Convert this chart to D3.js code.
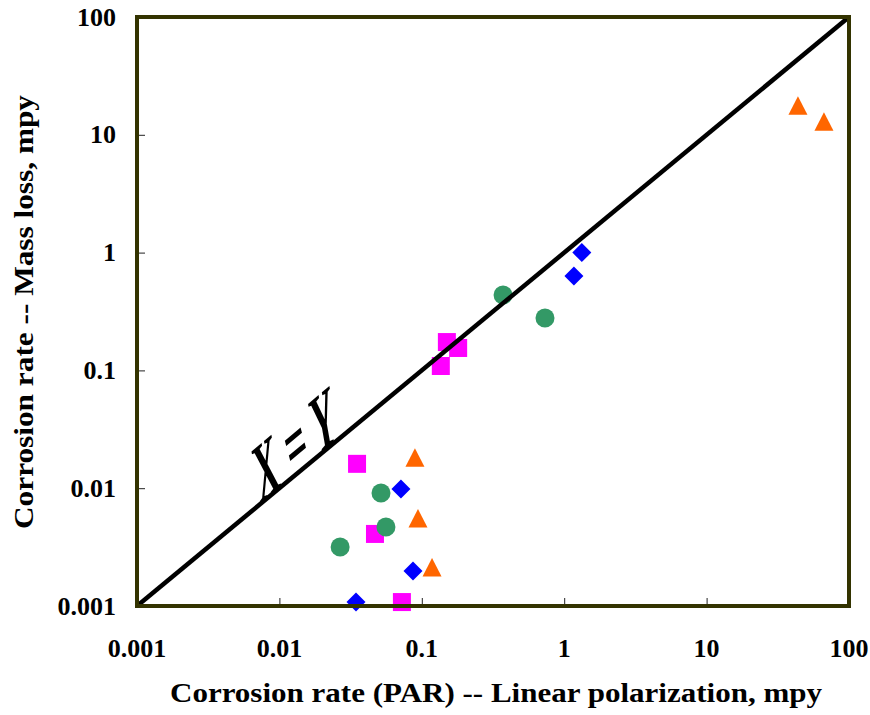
<!DOCTYPE html>
<html>
<head>
<meta charset="utf-8">
<script src="https://cdn.jsdelivr.net/npm/d3@7"></script>
<style>
  html, body { margin: 0; padding: 0; background: #fff; }
</style>
</head>
<body>
<svg id="chart" width="870" height="715" font-family="'Liberation Serif', 'Times New Roman', serif" font-weight="bold"></svg>
<script>
// Corrosion rate: linear polarization (x) vs mass loss (y), mpy
const tickValues = [0.001, 0.01, 0.1, 1, 10, 100];
const tickLabels = ["0.001", "0.01", "0.1", "1", "10", "100"];

const triangleX = [43.8, 66.7, 0.0895, 0.094, 0.118];
const triangleY = [17.5, 12.8, 0.018, 0.00548, 0.0021];

const diamondX = [1.33, 1.17, 0.0714, 0.0867, 0.0345];
const diamondY = [1.0, 0.632, 0.00985, 0.00198, 0.00108];

const circleX = [0.372, 0.733, 0.0517, 0.056, 0.0267];
const circleY = [0.437, 0.279, 0.0091, 0.00469, 0.00317];

const squareX = [0.150, 0.180, 0.136, 0.0351, 0.0469, 0.0725];
const squareY = [0.174, 0.155, 0.109, 0.0161, 0.00409, 0.00108];

const identityLine = [0.001, 100];

const svg = d3.select("#chart");
const fontFamily = "'Liberation Serif', 'Times New Roman', serif";
const plotLeft = 137, plotRight = 849, plotTop = 17, plotBottom = 606;

const x = d3.scaleLog().domain([0.001, 100]).range([plotLeft, plotRight]);
const y = d3.scaleLog().domain([0.001, 100]).range([plotBottom, plotTop]);

const frameColor = "#333300";

// inward ticks
svg.append("g")
  .attr("transform", `translate(0,${plotBottom})`)
  .call(d3.axisBottom(x).tickValues(tickValues).tickSizeInner(-8).tickSizeOuter(0).tickFormat(""))
  .call(g => g.select(".domain").remove())
  .call(g => g.selectAll("line").attr("stroke", "#222").attr("stroke-width", 1));
svg.append("g")
  .attr("transform", `translate(${plotLeft},0)`)
  .call(d3.axisLeft(y).tickValues(tickValues).tickSizeInner(-8).tickSizeOuter(0).tickFormat(""))
  .call(g => g.select(".domain").remove())
  .call(g => g.selectAll("line").attr("stroke", "#222").attr("stroke-width", 1));

// tick labels
svg.append("g").selectAll("text").data(tickValues).join("text")
  .attr("font-family", fontFamily).attr("font-weight", "bold")
  .attr("x", d => x(d)).attr("y", 657)
  .attr("text-anchor", "middle").attr("font-size", 26)
  .text((d, i) => tickLabels[i]);
svg.append("g").selectAll("text").data(tickValues).join("text")
  .attr("font-family", fontFamily).attr("font-weight", "bold")
  .attr("x", 116).attr("y", d => y(d) + 8.5)
  .attr("text-anchor", "end").attr("font-size", 26)
  .text((d, i) => tickLabels[i]);

// markers
const sq = 18;
svg.append("g").selectAll("rect").data(squareX).join("rect")
  .attr("x", (d, i) => x(d) - sq / 2).attr("y", (d, i) => y(squareY[i]) - sq / 2)
  .attr("width", sq).attr("height", sq).attr("fill", "#FF00FF");

svg.append("g").selectAll("circle").data(circleX).join("circle")
  .attr("cx", d => x(d)).attr("cy", (d, i) => y(circleY[i]))
  .attr("r", 9.5).attr("fill", "#339966");

svg.append("g").selectAll("path").data(diamondX).join("path")
  .attr("transform", (d, i) => `translate(${x(d)},${y(diamondY[i])})`)
  .attr("d", "M0,-9.5L9.5,0L0,9.5L-9.5,0Z").attr("fill", "#0000FF");

svg.append("g").selectAll("path").data(triangleX).join("path")
  .attr("transform", (d, i) => `translate(${x(d)},${y(triangleY[i])})`)
  .attr("d", "M0,-10L9.5,8.5L-9.5,8.5Z").attr("fill", "#FF6600");

// X = Y line
svg.append("line")
  .attr("x1", x(identityLine[0])).attr("y1", y(identityLine[0]))
  .attr("x2", x(identityLine[1])).attr("y2", y(identityLine[1]))
  .attr("stroke", "#000").attr("stroke-width", 4.5);

// plot frame
svg.append("rect")
  .attr("x", plotLeft).attr("y", plotTop).attr("width", plotRight - plotLeft).attr("height", plotBottom - plotTop)
  .attr("fill", "none").attr("stroke", frameColor).attr("stroke-width", 4);

// X = Y annotation
svg.append("text")
  .attr("font-family", fontFamily).attr("font-weight", "bold")
  .attr("transform", "translate(296,453) rotate(-40) skewX(-25) scale(0.85,1.35)")
  .attr("text-anchor", "middle").attr("dominant-baseline", "middle")
  .attr("font-size", 52).attr("font-style", "italic")
  .text("X = Y");

// axis titles
svg.append("text")
  .attr("font-family", fontFamily).attr("font-weight", "bold")
  .attr("x", 496).attr("y", 702).attr("text-anchor", "middle")
  .attr("font-size", 28).attr("textLength", 652).attr("lengthAdjust", "spacingAndGlyphs")
  .text("Corrosion rate (PAR) -- Linear polarization, mpy");
svg.append("text")
  .attr("font-family", fontFamily).attr("font-weight", "bold")
  .attr("transform", "translate(33,312) rotate(-90)").attr("text-anchor", "middle")
  .attr("font-size", 28).attr("textLength", 434).attr("lengthAdjust", "spacingAndGlyphs")
  .text("Corrosion rate -- Mass loss, mpy");
</script>
</body>
</html>
